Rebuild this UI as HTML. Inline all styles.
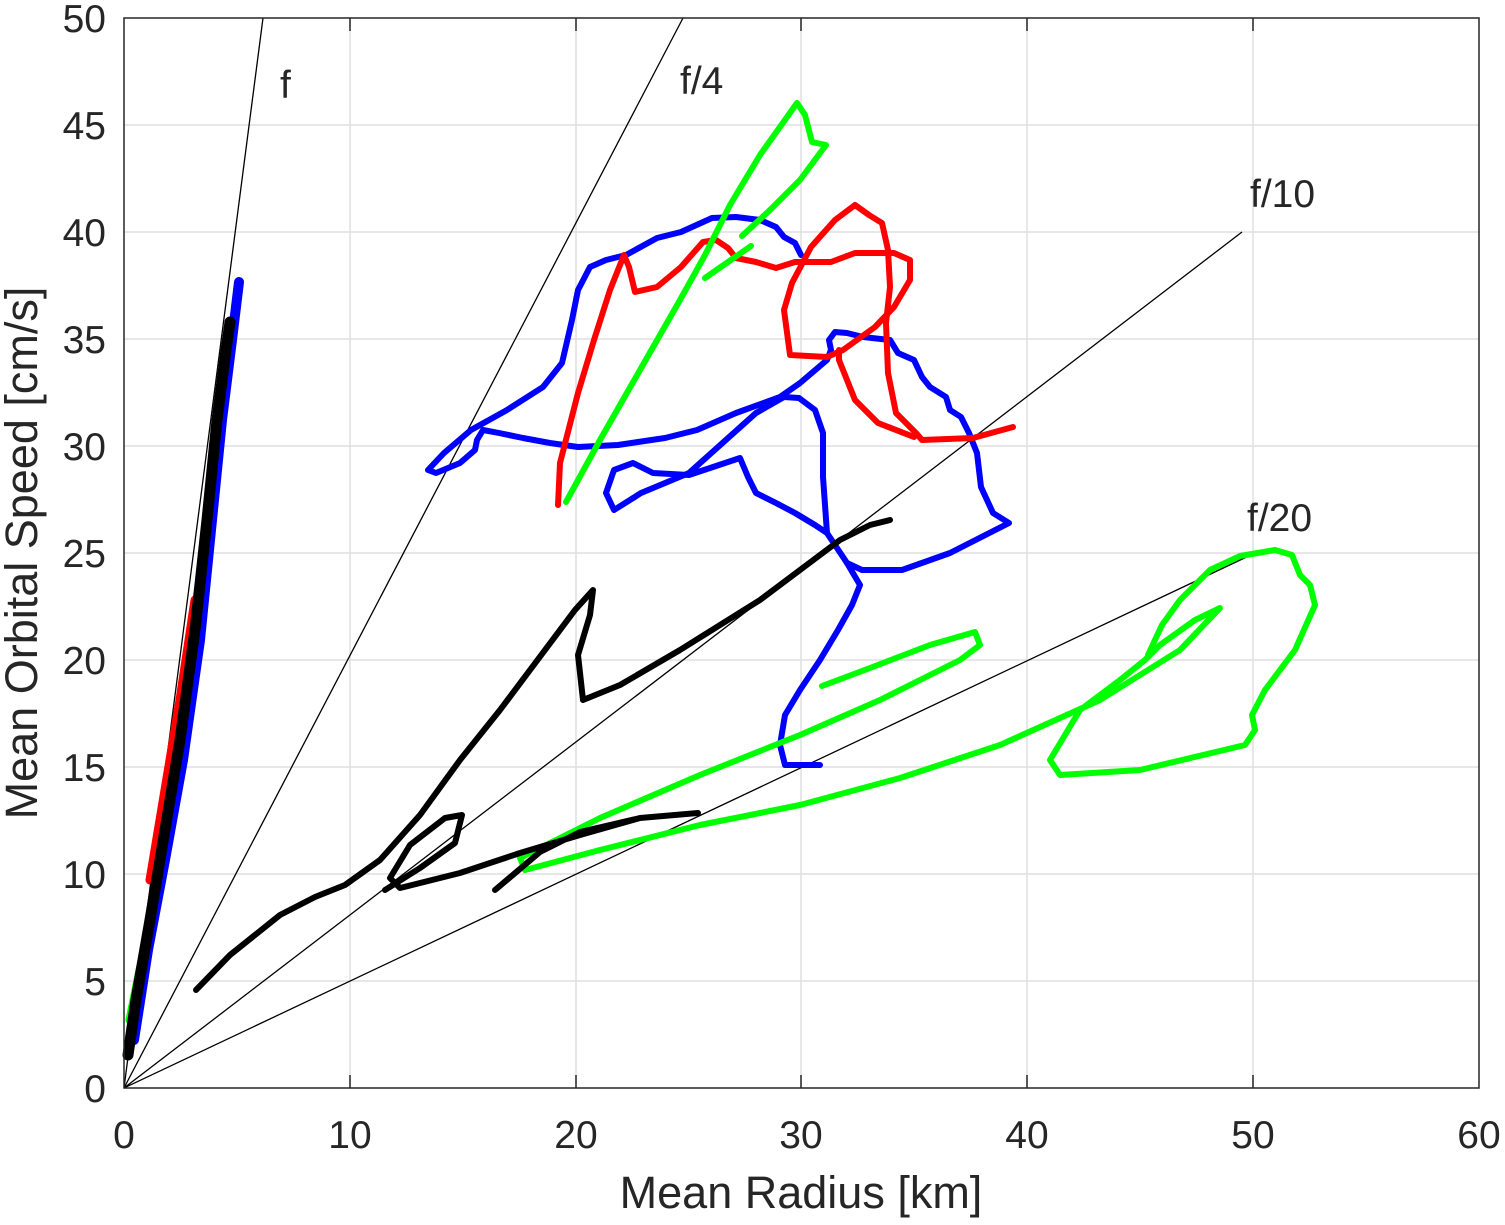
<!DOCTYPE html>
<html><head><style>body{margin:0;background:#fff}svg{display:block}text{font-family:"Liberation Sans",Arial,sans-serif;fill:#262626}</style></head><body>
<svg width="1505" height="1225" viewBox="0 0 1505 1225" xmlns="http://www.w3.org/2000/svg">
<g stroke="#dfdfdf" stroke-width="1.5">
<line x1="350" y1="18" x2="350" y2="1088"/><line x1="576" y1="18" x2="576" y2="1088"/><line x1="801" y1="18" x2="801" y2="1088"/><line x1="1027" y1="18" x2="1027" y2="1088"/><line x1="1253" y1="18" x2="1253" y2="1088"/>
<line x1="124" y1="981" x2="1479" y2="981"/><line x1="124" y1="874" x2="1479" y2="874"/><line x1="124" y1="767" x2="1479" y2="767"/><line x1="124" y1="660" x2="1479" y2="660"/><line x1="124" y1="553" x2="1479" y2="553"/><line x1="124" y1="446" x2="1479" y2="446"/><line x1="124" y1="339" x2="1479" y2="339"/><line x1="124" y1="232" x2="1479" y2="232"/><line x1="124" y1="125" x2="1479" y2="125"/>
</g>
<g stroke="#000" stroke-width="1.3" fill="none">
<line x1="124" y1="1088" x2="263" y2="18"/><line x1="124" y1="1088" x2="683" y2="18"/><line x1="124" y1="1088" x2="1242" y2="232"/><line x1="124" y1="1088" x2="1255" y2="553"/>
</g>
<g fill="none" stroke-width="6" stroke-linejoin="round" stroke-linecap="round">
<polyline stroke="#00ff00" stroke-width="9" points="130,1020 140,970 155,900 172,800 190,690 205,580 215,470 225,380"/>
<polyline stroke="#ff0000" stroke-width="9" points="150,880 165,790 180,700 195,600"/>
<polyline stroke="#0000ff" stroke-width="10" points="134,1040 148,950 165,860 183,760 200,640 212,520 222,420 232,340 239,282"/>
<polyline stroke="#000" stroke-width="11" points="128,1055 136,1000 150,920 165,830 180,740 195,630 207,520 217,420 226,350 230,322"/>
<polyline stroke="#0000ff" points="820,765 785,765 780,745 785,715 800,690 820,660 838,630 852,605 860,585 847,563 827,533 815,525 795,513 776,503 756,493 748,477 740,458 689,475 653,473 633,463 614,470 606,493 614,510 641,493 689,473 756,413 784,397 799,398 815,410 823,433 823,477 827,533"/>
<polyline stroke="#0000ff" points="847,563 862,570 902,570 950,553 1009,523 993,513 981,487 977,453 969,433 961,417 950,410 946,397 930,387 922,377 914,360 898,353 890,340 863,337 847,333 835,332 829,340 831,350 827,360 800,383 780,397 736,413 697,430 665,438 618,445 578,447 550,443 523,438 499,433 483,430 477,440 475,450 460,463 436,473 428,470 444,453 471,430 507,410 543,387 562,363 572,320 578,290 590,267 606,260 626,255 657,238 681,232 712,218 736,217 760,220 776,227 784,237 795,243 801,255"/>
<polyline stroke="#ff0000" points="558,505 560,463 578,393 594,340 610,290 624,255 629,267 635,292 657,287 681,267 703,242 716,240 728,248 736,258 756,262 776,268 795,262 831,262 855,253 894,253 910,260 910,280 894,307 875,327 843,350 827,357 790,355 784,310 792,283 811,247 835,220 855,205 869,215 882,223 888,250 890,287 886,323 888,373 896,413 916,433 922,440 973,438 1013,427"/>
<polyline stroke="#ff0000" points="839,350 839,360 855,400 878,423 914,437"/>
<polyline stroke="#00ff00" points="566,502 600,440 640,370 680,300 705,255 730,205 760,155 797,103 805,115 812,142 826,145 800,180 770,210 742,236"/>
<polyline stroke="#00ff00" points="751,246 705,278"/>
<polyline stroke="#00ff00" points="822,686 870,668 930,645 975,632 980,645 960,660 920,680 880,700 800,735 700,775 600,818 520,858 525,870 600,850 700,825 800,805 900,778 1000,745 1100,700 1180,650 1220,608 1195,620 1160,645 1145,660 1120,680 1080,710 1050,760 1060,775 1140,770 1245,745 1255,730 1252,715 1265,690 1295,650 1315,605 1310,585 1300,575 1292,555 1275,550 1240,556 1210,570 1180,600 1162,625 1148,655"/>
<polyline stroke="#000" points="196,990 230,955 280,915 315,897 345,885 380,860 420,815 460,760 500,710 545,650 575,610 593,590 590,615 578,655 583,700 620,685 680,650 760,600 840,540 870,525 890,520"/>
<polyline stroke="#000" points="385,890 420,868 455,843 462,815 445,818 410,845 390,878 400,888 460,873 520,853 580,835 640,818 698,813 640,818 580,832 540,852 495,890"/>
</g>
<rect x="124" y="18" width="1355" height="1070" fill="none" stroke="#262626" stroke-width="1.5"/>
<g stroke="#262626" stroke-width="1.5">
<line x1="350" y1="1088" x2="350" y2="1075"/><line x1="576" y1="1088" x2="576" y2="1075"/><line x1="801" y1="1088" x2="801" y2="1075"/><line x1="1027" y1="1088" x2="1027" y2="1075"/><line x1="1253" y1="1088" x2="1253" y2="1075"/>
<line x1="350" y1="18" x2="350" y2="31"/><line x1="576" y1="18" x2="576" y2="31"/><line x1="801" y1="18" x2="801" y2="31"/><line x1="1027" y1="18" x2="1027" y2="31"/><line x1="1253" y1="18" x2="1253" y2="31"/>
</g>
<g font-size="39" text-anchor="middle">
<text x="124" y="1148">0</text><text x="350" y="1148">10</text><text x="576" y="1148">20</text><text x="801" y="1148">30</text><text x="1027" y="1148">40</text><text x="1253" y="1148">50</text><text x="1479" y="1148">60</text>
</g>
<g font-size="39" text-anchor="end">
<text x="106" y="1102">0</text><text x="106" y="995">5</text><text x="106" y="888">10</text><text x="106" y="781">15</text><text x="106" y="674">20</text><text x="106" y="567">25</text><text x="106" y="460">30</text><text x="106" y="353">35</text><text x="106" y="246">40</text><text x="106" y="139">45</text><text x="106" y="32">50</text>
</g>
<text x="801" y="1208" font-size="45" text-anchor="middle">Mean Radius [km]</text>
<text transform="translate(37,553) rotate(-90)" font-size="45" text-anchor="middle">Mean Orbital Speed [cm/s]</text>
<g font-size="39" fill="#000">
<text x="280" y="98">f</text><text x="680" y="94">f/4</text><text x="1250" y="207">f/10</text><text x="1247" y="531">f/20</text>
</g>
</svg>
</body></html>
